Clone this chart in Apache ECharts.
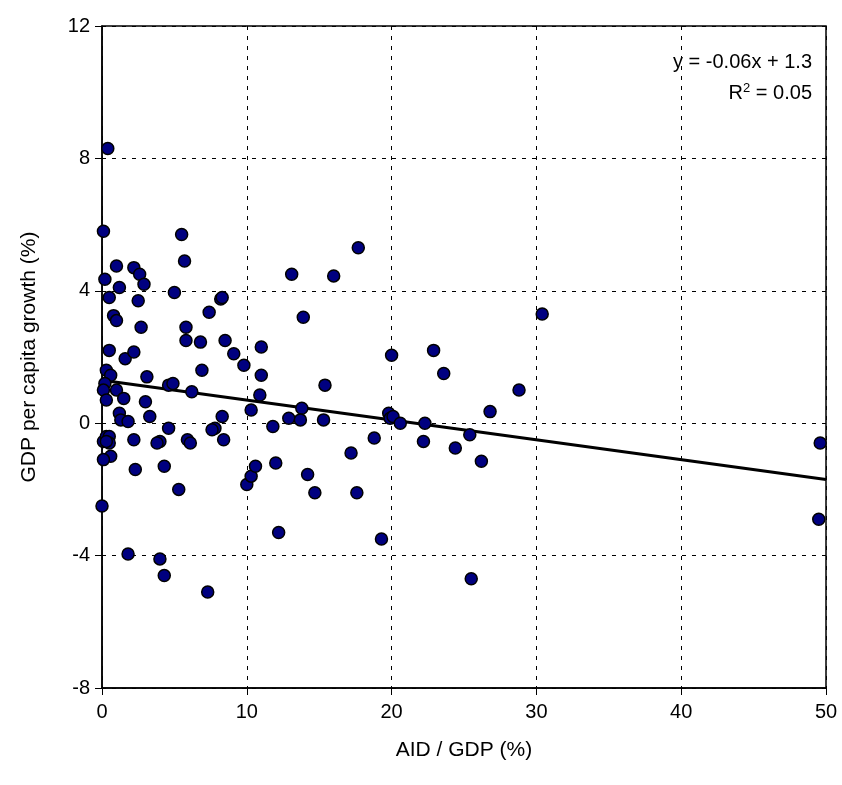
<!DOCTYPE html>
<html><head><meta charset="utf-8">
<script src="https://cdn.jsdelivr.net/npm/echarts@6/dist/echarts.min.js"></script>
<style>html,body{margin:0;padding:0;background:#fff}#c{width:842px;height:785px}</style>
</head><body><div id="c"></div>
<script>
const aidGdp = [0.4,0.1,0.2,0.5,1.0,1.2,0.8,1.0,0.5,1.6,0.3,0.6,0.2,0.1,0.3,1.0,1.2,1.5,1.3,1.8,0.1,0.3,0.5,0.5,0.3,0.6,0.1,0.0,2.2,2.6,2.9,2.5,2.7,2.2,3.1,3.0,3.3,2.2,2.3,1.8,4.0,3.8,4.3,4.0,4.3,4.6,4.6,4.9,5.0,5.5,5.7,5.8,5.8,5.9,6.1,6.2,6.8,6.9,7.4,8.2,8.3,8.5,7.8,7.6,8.4,8.3,5.3,7.3,9.1,9.8,10.3,10.0,10.3,10.6,11.0,11.0,10.9,11.8,12.0,12.2,12.9,13.1,13.8,13.7,13.9,14.2,14.7,15.3,15.4,16.0,17.7,17.2,17.6,18.8,19.3,19.8,19.9,20.0,20.1,20.6,22.2,22.3,22.9,23.6,24.4,25.4,25.5,26.2,26.8,28.8,30.4,49.6,49.5];
const growth = [8.3,5.8,4.35,3.8,4.75,4.1,3.25,3.1,2.2,1.95,1.6,1.45,1.2,1.0,0.7,1.0,0.3,0.75,0.1,0.05,-0.55,-0.4,-0.4,-0.6,-0.55,-1.0,-1.1,-2.5,4.7,4.5,4.2,3.7,2.9,2.15,1.4,0.65,0.2,-0.5,-1.4,-3.95,-0.55,-0.6,-1.3,-4.1,-4.6,-0.15,1.15,1.2,3.95,5.7,4.9,2.9,2.5,-0.5,-0.6,0.95,2.45,1.6,3.35,3.75,3.8,2.5,-0.15,-0.2,-0.5,0.2,-2.0,-5.1,2.1,1.75,0.4,-1.85,-1.6,-1.3,2.3,1.45,0.85,-0.1,-1.2,-3.3,0.15,4.5,0.45,0.1,3.2,-1.55,-2.1,0.1,1.15,4.45,5.3,-0.9,-2.1,-0.45,-3.5,0.3,0.15,2.05,0.2,0.0,-0.55,0.0,2.2,1.5,-0.75,-0.35,-4.7,-1.15,0.35,1.0,3.3,-0.6,-2.9];
const trendSlope = -0.06, trendIntercept = 1.3;
const trendX = [0, 50];

const pts = aidGdp.map((x,i)=>[x,growth[i]]);
const trend = trendX.map(x=>[x, trendSlope*x+trendIntercept]);
const ch = echarts.init(document.getElementById('c'));
const font = 'Liberation Sans, Arial, sans-serif';
const split = {show:true,lineStyle:{type:[4,6],color:'#000',width:1}};
ch.setOption({
  animation:false,
  textStyle:{fontFamily:font},
  grid:{left:102,right:16,top:26,bottom:97,show:true,borderColor:'#000',borderWidth:1.5},
  xAxis:{type:'value',min:0,max:50,interval:10,
    name:'AID / GDP (%)',nameLocation:'middle',nameGap:52,
    nameTextStyle:{fontSize:21,color:'#000',fontFamily:font},
    axisLine:{onZero:false,lineStyle:{color:'#000',width:1.5}},axisTick:{show:true,length:7,lineStyle:{color:'#000'}},
    axisLabel:{fontSize:20,color:'#000',margin:14},splitLine:split},
  yAxis:{type:'value',min:-8,max:12,interval:4,
    name:'GDP per capita growth (%)',nameLocation:'middle',nameGap:62,
    nameTextStyle:{fontSize:21,color:'#000',fontFamily:font},
    axisLine:{show:true,onZero:false,lineStyle:{color:'#000',width:1.5}},axisTick:{show:true,length:7,lineStyle:{color:'#000'}},
    axisLabel:{fontSize:20,color:'#000',margin:12},splitLine:split},
  graphic:[
    {type:'text',right:30,top:52,style:{text:'y = -0.06x + 1.3',font:'20px Liberation Sans',fill:'#000'}},
    {type:'text',right:30,top:82,style:{text:'R{s|2} = 0.05',font:'20px Liberation Sans',fill:'#000',rich:{s:{fontSize:13,verticalAlign:'top',padding:[0,0,10,0]}}}}
  ],
  series:[
    {type:'line',data:trend,symbol:'none',lineStyle:{color:'#000',width:3},z:3},
    {type:'scatter',data:pts,symbolSize:12,itemStyle:{color:'#000080',opacity:1,borderColor:'#000',borderWidth:1.5},z:4}
  ]
});
</script></body></html>
